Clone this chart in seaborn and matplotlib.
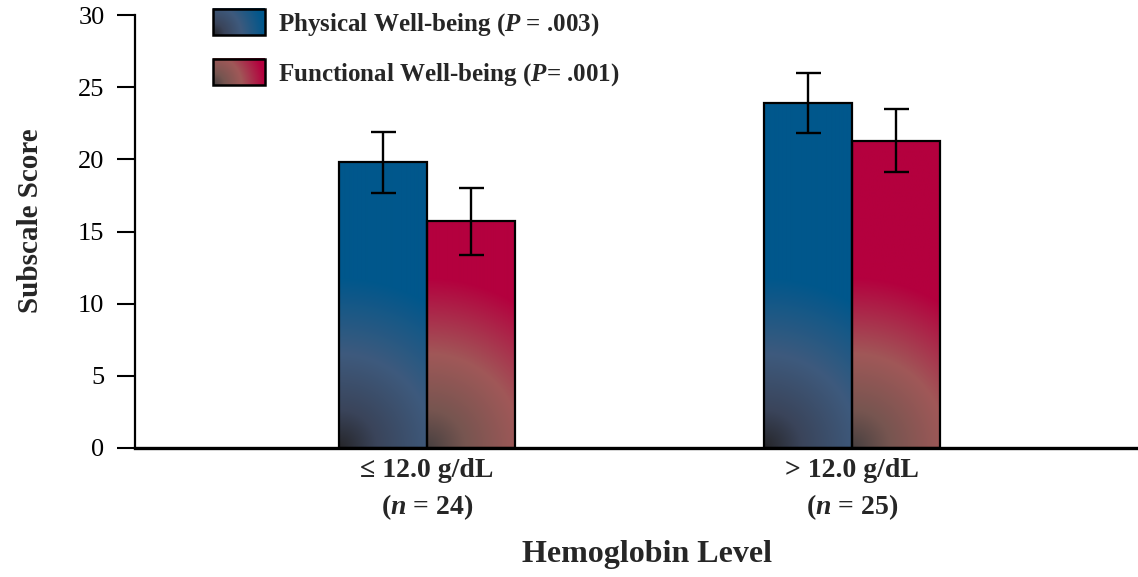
import numpy as np
import pandas as pd
import matplotlib
matplotlib.use("Agg")
import matplotlib.pyplot as plt
import seaborn as sns
from matplotlib.legend_handler import HandlerBase
from matplotlib.image import BboxImage
from matplotlib.transforms import Bbox, TransformedBbox
from matplotlib.patches import Rectangle

# ---- data -------------------------------------------------------------
groups = ["≤ 12.0 g/dL\n($n$ = 24)", "> 12.0 g/dL\n($n$ = 25)"]
series = ["Physical Well-being ($P$ = .003)", "Functional Well-being ($P$= .001)"]
physical = [19.8, 23.9]
physical_err = [2.1, 2.1]
functional = [15.7, 21.3]
functional_err = [2.3, 2.2]
yticks = [0, 5, 10, 15, 20, 25, 30]

# ---- style ------------------------------------------------------------
sns.set_style("ticks")
plt.rcParams["font.family"] = ["Liberation Serif", "DejaVu Serif"]
plt.rcParams["mathtext.fontset"] = "custom"
plt.rcParams["mathtext.it"] = "Liberation Serif:italic:bold"
plt.rcParams["mathtext.rm"] = "Liberation Serif:bold"
plt.rcParams["mathtext.bf"] = "Liberation Serif:bold"

# solid colour, mid tone and corner shade for each series
shades = [
    dict(solid=(0, 87, 140), mid=(62, 90, 125), low=(58, 68, 90), dark=(38, 38, 42)),
    dict(solid=(180, 0, 62), mid=(160, 88, 88), low=(118, 85, 80), dark=(72, 64, 64)),
]


def radial_fill(w_px, h_px, shade, radius):
    """Radial shading that darkens toward the lower-left corner."""
    nx, ny = max(int(round(w_px)), 2), max(int(round(h_px)), 2)
    xx, yy = np.meshgrid(np.linspace(0, w_px, nx), np.linspace(0, h_px, ny))
    t = np.clip(np.hypot(xx, yy) / radius, 0, 1)
    stops = [0.0, 0.22, 0.55, 1.0]
    cols = np.array([shade["dark"], shade["low"], shade["mid"], shade["solid"]], float) / 255
    img = np.empty((ny, nx, 3))
    for c in range(3):
        img[..., c] = np.interp(t, stops, cols[:, c])
    return img


class GradientHandler(HandlerBase):
    def __init__(self, shade):
        super().__init__()
        self.shade = shade

    def create_artists(self, legend, orig_handle, xdescent, ydescent,
                       width, height, fontsize, trans):
        bb = TransformedBbox(Bbox.from_bounds(-xdescent, -ydescent, width, height), trans)
        im = BboxImage(bb, origin="lower", interpolation="bilinear")
        im.set_data(radial_fill(width * 2, height * 2, self.shade, radius=75))
        rect = Rectangle((-xdescent, -ydescent), width, height, facecolor="none",
                         edgecolor="black", linewidth=1.8, transform=trans)
        return [im, rect]


df = pd.DataFrame({
    "group": groups * 2,
    "series": [series[0]] * 2 + [series[1]] * 2,
    "score": physical + functional,
})
errs = [physical_err, functional_err]

W, H = 1138, 577
fig = plt.figure(figsize=(W / 100, H / 100), dpi=100)
ax = fig.add_axes([135 / W, 1 - 448 / H, 1 - 135 / W, (448 - 15) / H])

sns.barplot(data=df, x="group", y="score", hue="series", order=groups,
            hue_order=series, palette=["#00578c", "#b4003e"], width=0.415,
            errorbar=None, edgecolor="black", linewidth=1.6, ax=ax, legend=False)

xlim = (-0.687, 1.673)
ax.set_xlim(*xlim)
ax.set_ylim(0, 30)

px_x = ax.transData.transform((1, 0))[0] - ax.transData.transform((0, 0))[0]
px_y = ax.transData.transform((0, 1))[1] - ax.transData.transform((0, 0))[1]

bar_containers = list(ax.containers)
for k, container in enumerate(bar_containers):
    for j, bar in enumerate(container.patches):
        x0, w, h = bar.get_x(), bar.get_width(), bar.get_height()
        img = radial_fill(w * px_x, h * px_y, shades[k], radius=170)
        ax.imshow(img, extent=(x0, x0 + w, 0, h), origin="lower", aspect="auto",
                  interpolation="bilinear", zorder=1)
        bar.set_facecolor("none")
        bar.set_zorder(2)
        ax.errorbar(x0 + w / 2, h, yerr=errs[k][j], color="black", elinewidth=1.7,
                    capsize=9, capthick=1.7, fmt="none", zorder=3)

ax.set_xlim(*xlim)
ax.set_ylim(0, 30)
ax.set_yticks(yticks)
ax.set_yticklabels([str(v) for v in yticks], fontsize=19)
ax.tick_params(axis="y", length=13, width=1.5, pad=9, direction="out", colors="black")
ax.tick_params(axis="x", length=0, pad=7)
for lab in ax.get_xticklabels():
    lab.set_fontsize(20)
    lab.set_fontweight("bold")
    lab.set_linespacing(1.45)

sns.despine(ax=ax)
ax.spines["left"].set_linewidth(1.6)
ax.spines["bottom"].set_linewidth(2.4)
ax.spines["left"].set_color("black")
ax.spines["bottom"].set_color("black")

ax.set_ylabel("Subscale Score", fontsize=21, fontweight="bold", va="center")
ax.yaxis.set_label_coords(-0.104, 0.524)
ax.set_xlabel("Hemoglobin Level", fontsize=23, fontweight="bold", va="center")
ax.xaxis.set_label_coords(0.51, -0.245)

proxies = [Rectangle((0, 0), 1, 1) for _ in series]
ax.legend(proxies, series, handler_map={p: GradientHandler(s) for p, s in zip(proxies, shades)},
          loc="upper left", bbox_to_anchor=(213 / W, 1 - 9 / H), bbox_transform=fig.transFigure,
          frameon=False, borderpad=0, borderaxespad=0, prop={"weight": "bold", "size": 18},
          handlelength=2.08, handleheight=1.24, handletextpad=0.5, labelspacing=0.84)

fig.savefig("out.png", dpi=100)
